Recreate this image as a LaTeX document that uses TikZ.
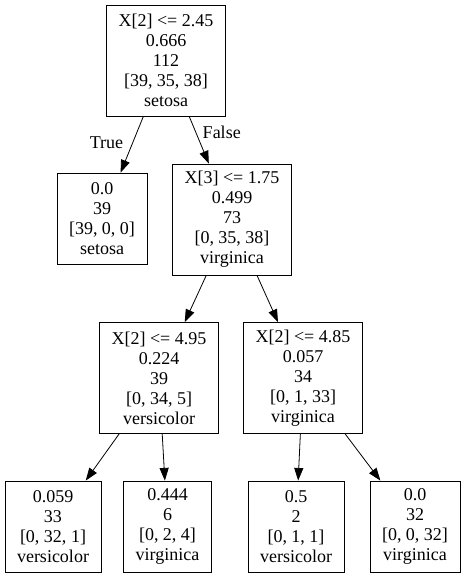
\documentclass[tikz,border=0pt]{standalone}
\usepackage{fontspec}
\setmainfont{Liberation Serif}
\usetikzlibrary{arrows.meta}
\tikzset{tree/.style={x=0.75pt,y=-0.75pt,>={Triangle[length=9.5pt,width=6.8pt]},semithick,
      every node/.style={font=\fontsize{13.5pt}{15pt}\selectfont}},
    split/.style={rectangle,draw,align=center,inner xsep=9pt,minimum height=83.25pt},
    leaf/.style={rectangle,draw,align=center,inner xsep=9pt,minimum height=68.25pt},
    answer/.style={inner sep=2pt}}

\begin{document}
\begin{tikzpicture}[tree]
    \useasboundingbox (0,0) rectangle (465,577);
    \node[split](n0) at (166,60.5){X[2] <= 2.45\\0.666\\112\\{[39, 35, 38]}\\setosa};
    \node[leaf](n1) at (102,218.5){0.0\\39\\{[39, 0, 0]}\\setosa};
    \node[split](n2) at (232,219.5){X[3] <= 1.75\\0.499\\73\\{[0, 35, 38]}\\virginica};
    \node[split](n3) at (159,378){X[2] <= 4.95\\0.224\\39\\{[0, 34, 5]}\\versicolor};
    \node[split](n4) at (303,378){X[2] <= 4.85\\0.057\\34\\{[0, 1, 33]}\\virginica};
    \node[leaf](n5) at (53,526.5){0.059\\33\\{[0, 32, 1]}\\versicolor};
    \node[leaf](n6) at (167.5,526.5){0.444\\6\\{[0, 2, 4]}\\virginica};
    \node[leaf](n7) at (296,526.5){0.5\\2\\{[0, 1, 1]}\\versicolor};
    \node[leaf](n8) at (415,526.5){0.0\\32\\{[0, 0, 32]}\\virginica};

    \draw[->] (n0) -- node[answer,pos=0.46,left=5pt](ltrue){True} (n1);
    \draw[->] (n0) -- node[answer,pos=0.33,right=3pt](lfalse){False} (n2);
    \draw[->] (n2) -- (n3);
    \draw[->] (n2) -- (n4);
    \draw[->] (n3) -- (n5);
    \draw[->] (n3) -- (n6);
    \draw[->] (n4) -- (n7);
    \draw[->] (n4) -- (n8);
\end{tikzpicture}
\end{document}
